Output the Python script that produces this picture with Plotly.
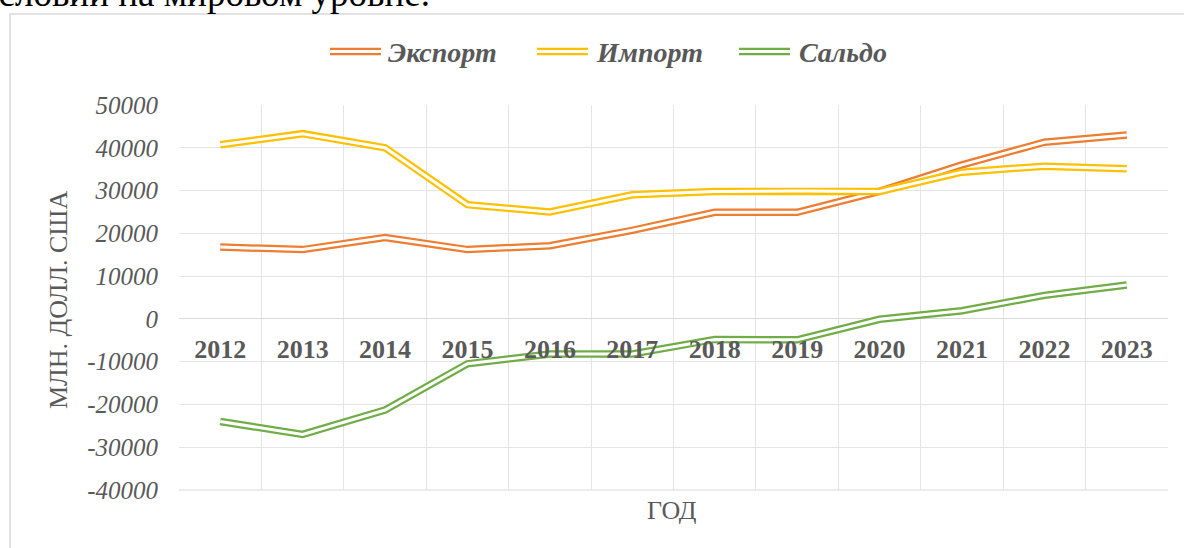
import plotly.graph_objects as go

years = ['2012', '2013', '2014', '2015', '2016', '2017',
         '2018', '2019', '2020', '2021', '2022', '2023']
export = [16800, 16200, 19000, 16200, 17100, 20700,
          24900, 24900, 29800, 36000, 41300, 43000]
imports = [40700, 43300, 40000, 26700, 25000, 29000,
           29800, 29900, 29800, 34300, 35700, 35100]
saldo = [-24000, -27000, -21300, -10500, -8200, -8200,
         -4800, -4900, -100, 1900, 5500, 7900]
y_ticks = [-40000, -30000, -20000, -10000, 0, 10000, 20000, 30000, 40000, 50000]

series = [('Экспорт', export, '#ED7D31'),
          ('Импорт', imports, '#FFC000'),
          ('Сальдо', saldo, '#70AD47')]

SERIF = 'Liberation Serif, Times New Roman, serif'
TXT = '#595959'
GRID = '#E4E4E4'

# plot area in pixels
L, R, T, B = 179, 1168, 105, 490
W, H = 1184, 548


def px(x):
    return (x - L) / (R - L)


def py(y):
    return (B - y) / (B - T)


fig = go.Figure()

# Excel "double" line: thick coloured stroke with a white stroke on top
for name, vals, color in series:
    fig.add_trace(go.Scatter(x=years, y=vals, mode='lines', name=name,
                             line=dict(color=color, width=7.5), showlegend=False))
    fig.add_trace(go.Scatter(x=years, y=vals, mode='lines', hoverinfo='skip',
                             line=dict(color='white', width=3), showlegend=False))

fig.update_layout(
    width=W, height=H,
    margin=dict(l=L, r=W - R, t=T, b=H - B),
    plot_bgcolor='white', paper_bgcolor='white',
    font=dict(family=SERIF, color=TXT),
)

fig.update_xaxes(
    type='category', tickson='boundaries', range=[-0.5, len(years) - 0.5],
    showgrid=True, gridcolor=GRID, gridwidth=1,
    showline=False, ticks='', automargin=False,
    anchor='free', position=4 / 9,
    tickfont=dict(family=SERIF, size=26, color=TXT, weight='bold'),
    ticklabelstandoff=12,
)
fig.update_yaxes(
    range=[y_ticks[0], y_ticks[-1]],
    tickmode='array', tickvals=y_ticks, ticktext=[str(v) for v in y_ticks],
    showgrid=True, gridcolor=GRID, gridwidth=1,
    zeroline=True, zerolinecolor='#D9D9D9', zerolinewidth=1,
    showline=False, ticks='', automargin=False,
    tickfont=dict(family=SERIF, size=25, color=TXT, style='italic'),
    ticklabelstandoff=20,
)

# bottom edge of plot area
fig.add_shape(type='line', xref='paper', yref='paper', x0=0, x1=1, y0=0, y1=0,
              line=dict(color='#D9D9D9', width=1))

# axis titles
fig.add_annotation(text='МЛН. ДОЛЛ. США', xref='paper', yref='paper',
                   x=px(58), y=py(300), xanchor='center', yanchor='middle',
                   textangle=-90, showarrow=False,
                   font=dict(family=SERIF, size=26, color=TXT))
fig.add_annotation(text='ГОД', xref='paper', yref='paper',
                   x=px(672), y=py(510), xanchor='center', yanchor='middle',
                   showarrow=False,
                   font=dict(family=SERIF, size=26, color=TXT))

# custom legend with double-line symbols
legend_pos = [(330, 386), (537, 594), (739, 797)]
for (name, vals, color), (sx, tx) in zip(series, legend_pos):
    for dy in (-2.6, 2.6):
        fig.add_shape(type='line', xref='paper', yref='paper',
                      x0=px(sx), x1=px(sx + 51), y0=py(51.5 + dy), y1=py(51.5 + dy),
                      line=dict(color=color, width=2.4))
    fig.add_annotation(text=name, xref='paper', yref='paper',
                       x=px(tx), y=py(52), xanchor='left', yanchor='middle',
                       showarrow=False,
                       font=dict(family=SERIF, size=28, color=TXT,
                                 weight='bold', style='italic'))

# chart frame
fig.add_shape(type='rect', xref='paper', yref='paper',
              x0=px(10), x1=px(1200), y0=py(560), y1=py(14),
              line=dict(color='#D9D9D9', width=1.5))

# cut-off text of the document above the chart
fig.add_annotation(text='условий на мировом уровне.', xref='paper', yref='paper',
                   x=px(432), y=py(16), xanchor='right', yanchor='bottom',
                   showarrow=False,
                   font=dict(family=SERIF, size=37, color='black'))

fig.write_html('out.html', config={'displayModeBar': False},
               post_script="document.body.style.margin='0';")
